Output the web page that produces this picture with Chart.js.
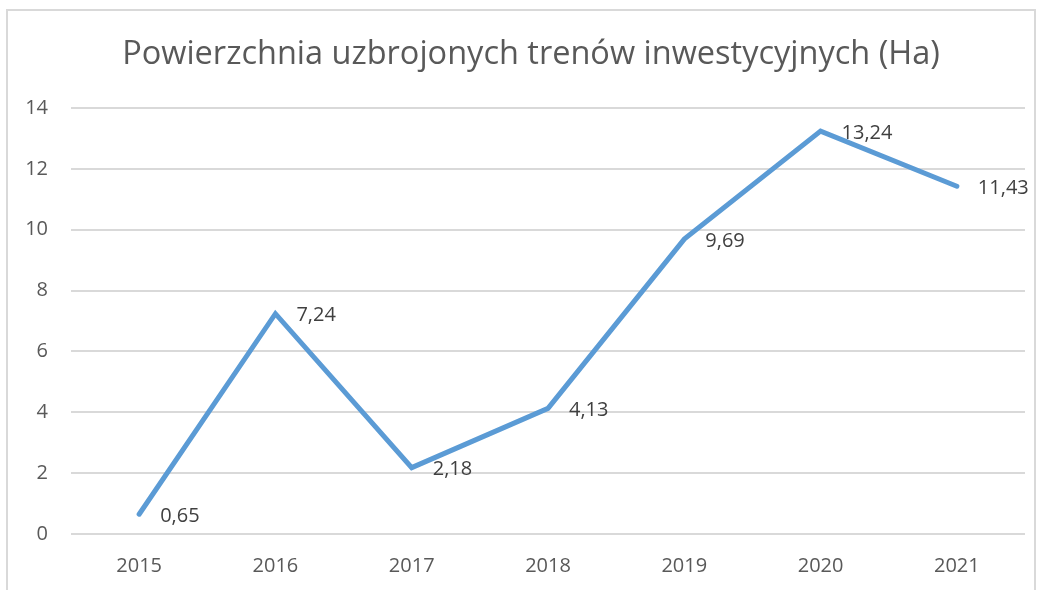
<!DOCTYPE html>
<html><head><meta charset="utf-8">
<script src="https://cdn.jsdelivr.net/npm/chart.js@4"></script>
<style>html,body{margin:0;padding:0;background:#fff}#wrap{width:1042px;height:590px;position:relative}</style>
</head><body><div id="wrap"><canvas id="c" width="1042" height="590"></canvas></div>
<script>
const titleText = 'Powierzchnia uzbrojonych trenów inwestycyjnych (Ha)';
const years = ['2015','2016','2017','2018','2019','2020','2021'];
const areaHa = [0.65, 7.24, 2.18, 4.13, 9.69, 13.24, 11.43];
const yTicks = [0, 2, 4, 6, 8, 10, 12, 14];

const FONT = "'Open Sans', sans-serif";

const framePlugin = {
  id: 'frame',
  beforeDraw(chart) {
    const ctx = chart.ctx;
    ctx.save();
    ctx.fillStyle = '#fff';
    ctx.fillRect(0, 0, chart.width, chart.height);
    ctx.strokeStyle = '#d9d9d9';
    ctx.lineWidth = 2;
    ctx.strokeRect(7, 10, 1028, 600);
    ctx.font = '32.5px ' + FONT;
    ctx.fillStyle = '#595959';
    ctx.textAlign = 'center';
    ctx.textBaseline = 'middle';
    ctx.fillText(titleText, 531, 55);
    ctx.restore();
  }
};

const labelPlugin = {
  id: 'valueLabels',
  afterDatasetsDraw(chart) {
    const ctx = chart.ctx;
    const meta = chart.getDatasetMeta(0);
    ctx.save();
    ctx.font = '20px ' + FONT;
    ctx.fillStyle = '#404040';
    ctx.textAlign = 'left';
    ctx.textBaseline = 'middle';
    meta.data.forEach((pt, i) => {
      const txt = areaHa[i].toFixed(2).replace('.', ',');
      ctx.fillText(txt, pt.x + 21, pt.y + 2);
    });
    ctx.restore();
  }
};

new Chart(document.getElementById('c'), {
  type: 'line',
  data: {
    labels: years,
    datasets: [{
      data: areaHa,
      borderColor: '#5b9bd5',
      borderWidth: 5,
      borderCapStyle: 'round',
      borderJoinStyle: 'miter',
      pointRadius: 0,
      pointHoverRadius: 0,
      tension: 0,
      fill: false
    }]
  },
  options: {
    responsive: false,
    animation: false,
    events: [],
    layout: { padding: { left: 0, right: 17, top: 108, bottom: 0 } },
    plugins: {
      legend: { display: false },
      tooltip: { enabled: false },
      title: { display: false }
    },
    scales: {
      x: {
        offset: true,
        grid: { display: false, drawTicks: false },
        border: { display: false },
        ticks: { color: '#595959', font: { family: FONT, size: 20 }, padding: 20, maxRotation: 0 },
        afterFit(s) { s.height = 56; }
      },
      y: {
        min: 0, max: 14,
        afterBuildTicks(s) { s.ticks = yTicks.map(v => ({ value: v })); },
        grid: { color: '#d9d9d9', lineWidth: 2, drawTicks: false },
        border: { display: false },
        ticks: { color: '#595959', font: { family: FONT, size: 20 }, padding: 23 },
        afterFit(s) { s.width = 71; }
      }
    }
  },
  plugins: [framePlugin, labelPlugin]
});
</script>
</body></html>
